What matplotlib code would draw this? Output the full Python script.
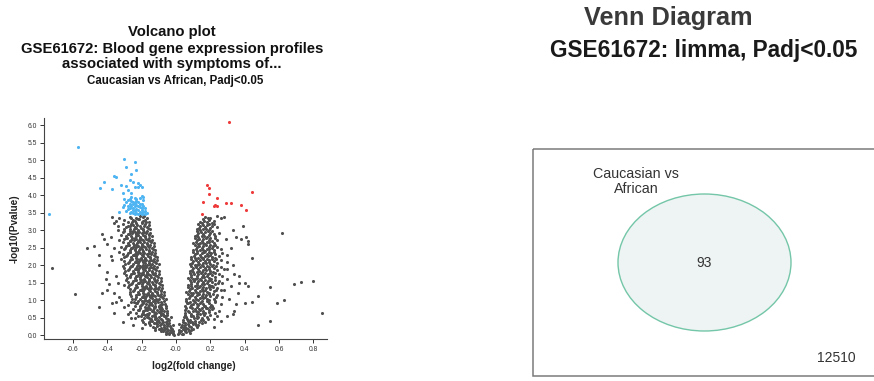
import matplotlib
matplotlib.use('Agg')
import matplotlib.pyplot as plt
from matplotlib.patches import Rectangle, Ellipse
import numpy as np

plt.rcParams['font.family'] = ['Liberation Sans', 'DejaVu Sans']

# significant genes, up in Caucasian (red) / down (blue)
up_genes = [(.31,6.1),(.18,4.28),(.19,4.2),(.19,4.02),(.44,4.08),(.24,3.93),(.16,3.8),(.32,3.78),
            (.29,3.77),(.23,3.72),(.24,3.70),(.22,3.68),(.38,3.72),(.41,3.58),(.15,3.47)]

down_genes = [(-.57,5.36),(-.74,3.46),(-.30,5.02),(-.24,4.94),(-.29,4.80),(-.23,4.72),(-.26,4.60),(-.36,4.55),
              (-.35,4.53),(-.42,4.37),(-.44,4.20),(-.37,4.17),(-.32,4.28),(-.29,4.27),(-.27,4.42),(-.25,4.38),
              (-.22,4.35),(-.21,4.30),(-.22,4.24),(-.20,4.23),(-.24,4.24),(-.28,4.15),(-.31,4.05),(-.26,4.05),
              (-.20,3.98),(-.19,3.95),(-.21,3.92),(-.30,3.88),(-.30,3.72),(-.33,3.52),(-.18,3.62),(-.28,3.85),
              (-.26,3.82),(-.25,3.80),(-.24,3.78),(-.27,3.76),(-.25,3.74),(-.23,3.73),(-.26,3.70),(-.24,3.68),
              (-.22,3.70),(-.21,3.65),(-.27,3.64),(-.25,3.62),(-.23,3.60),(-.22,3.58),(-.20,3.57),(-.28,3.60),
              (-.24,3.55),(-.21,3.53),(-.19,3.52),(-.26,3.52),(-.23,3.50),(-.21,3.48),(-.20,3.47),(-.18,3.46),
              (-.22,3.46),(-.25,3.48),(-.29,3.55),(-.27,3.90),(-.23,3.88),(-.24,3.92),(-.31,3.66),(-.29,3.80),
              (-.22,3.80),(-.20,3.75),(-.19,3.68),(-.26,3.95),(-.25,3.58),(-.24,3.45),(-.20,3.62),(-.18,3.56),
              (-.23,3.83),(-.28,3.70),(-.21,3.76),(-.17,3.50),(-.19,3.85),(-.27,3.50)]

# not significant, left arm of the volcano
gray_left = [(-.01,.02),(-.02,.05),(-.03,.08),(-.04,.04),(-.05,.12),(-.06,.09),(-.07,.15),(-.08,.18),(-.03,.14),(-.09,.11),(-.10,.19),(-.05,.19),(-.02,.11),(-.12,.16),(-.06,.03),
    (-.03,.22),(-.05,.27),(-.07,.24),(-.09,.31),(-.11,.26),(-.13,.34),(-.15,.29),(-.04,.36),(-.06,.39),(-.08,.35),(-.1,.38),(-.12,.22),(-.14,.4),(-.16,.36),(-.18,.31),(-.02,.3),(-.11,.33),(-.07,.3),(-.19,.38),(-.09,.22),
    (-.04,.44),(-.06,.49),(-.08,.43),(-.1,.52),(-.12,.46),(-.14,.55),(-.16,.48),(-.18,.57),(-.2,.45),(-.05,.58),(-.07,.56),(-.09,.6),(-.11,.41),(-.13,.59),(-.15,.42),(-.17,.53),(-.19,.6),(-.22,.54),(-.24,.49),(-.03,.52),(-.12,.51),(-.09,.47),
    (-.05,.63),(-.07,.68),(-.09,.64),(-.11,.72),(-.13,.66),(-.15,.75),(-.17,.62),(-.19,.7),(-.21,.77),(-.23,.65),(-.06,.78),(-.08,.74),(-.1,.8),(-.12,.61),(-.14,.69),(-.16,.79),(-.18,.73),(-.2,.61),(-.22,.71),(-.25,.76),(-.27,.66),(-.13,.77),(-.1,.67),(-.17,.71),
    (-.06,.83),(-.08,.88),(-.1,.84),(-.12,.93),(-.14,.86),(-.16,.95),(-.18,.82),(-.2,.9),(-.22,.97),(-.24,.85),(-.07,.98),(-.09,.94),(-.11,1.0),(-.13,.81),(-.15,.89),(-.17,.99),(-.19,.92),(-.21,.83),(-.23,.91),(-.26,.96),(-.28,.87),(-.12,.97),(-.16,.87),(-.2,.99),
    (-.06,1.03),(-.08,1.08),(-.1,1.04),(-.12,1.13),(-.14,1.06),(-.16,1.15),(-.18,1.02),(-.2,1.1),(-.22,1.17),(-.24,1.05),(-.26,1.12),(-.09,1.18),(-.11,1.2),(-.13,1.01),(-.15,1.09),(-.17,1.19),(-.19,1.13),(-.21,1.03),(-.23,1.14),(-.27,1.19),(-.14,1.17),(-.18,1.07),(-.07,1.14),
    (-.07,1.23),(-.09,1.28),(-.11,1.24),(-.13,1.33),(-.15,1.26),(-.17,1.35),(-.19,1.22),(-.21,1.3),(-.23,1.37),(-.25,1.25),(-.27,1.32),(-.1,1.38),(-.12,1.4),(-.14,1.21),(-.16,1.29),(-.18,1.39),(-.2,1.33),(-.22,1.23),(-.24,1.34),(-.28,1.39),(-.15,1.37),(-.19,1.27),(-.08,1.34),
    (-.08,1.43),(-.1,1.48),(-.12,1.44),(-.14,1.53),(-.16,1.46),(-.18,1.55),(-.2,1.42),(-.22,1.5),(-.24,1.57),(-.26,1.45),(-.28,1.52),(-.11,1.58),(-.13,1.6),(-.15,1.41),(-.17,1.49),(-.19,1.59),(-.21,1.53),(-.23,1.43),(-.25,1.54),(-.29,1.59),(-.16,1.57),(-.2,1.47),(-.09,1.55),(-.3,1.44),
    (-.09,1.63),(-.11,1.68),(-.13,1.64),(-.15,1.73),(-.17,1.66),(-.19,1.75),(-.21,1.62),(-.23,1.7),(-.25,1.77),(-.27,1.65),(-.29,1.72),(-.12,1.78),(-.14,1.8),(-.16,1.61),(-.18,1.69),(-.2,1.79),(-.22,1.73),(-.24,1.63),(-.26,1.74),(-.3,1.79),(-.17,1.77),(-.21,1.67),(-.1,1.75),
    (-.1,1.83),(-.12,1.88),(-.14,1.84),(-.16,1.93),(-.18,1.86),(-.2,1.95),(-.22,1.82),(-.24,1.9),(-.26,1.97),(-.28,1.85),(-.3,1.92),(-.13,1.98),(-.15,2.0),(-.17,1.81),(-.19,1.89),(-.21,1.99),(-.23,1.93),(-.25,1.83),(-.27,1.94),(-.31,1.99),(-.18,1.97),(-.22,1.87),(-.11,1.95),
    (-.1,2.03),(-.12,2.08),(-.14,2.04),(-.16,2.13),(-.18,2.06),(-.2,2.15),(-.22,2.02),(-.24,2.1),(-.26,2.17),(-.28,2.05),(-.3,2.12),(-.13,2.18),(-.15,2.2),(-.17,2.01),(-.19,2.09),(-.21,2.19),(-.23,2.13),(-.25,2.03),(-.27,2.14),(-.32,2.19),(-.18,2.17),(-.22,2.07),(-.11,2.15),
    (-.11,2.23),(-.13,2.28),(-.15,2.24),(-.17,2.33),(-.19,2.26),(-.21,2.35),(-.23,2.22),(-.25,2.3),(-.27,2.37),(-.29,2.25),(-.31,2.32),(-.14,2.38),(-.16,2.4),(-.18,2.21),(-.2,2.29),(-.22,2.39),(-.24,2.33),(-.26,2.23),(-.28,2.34),(-.33,2.39),(-.19,2.37),(-.23,2.27),(-.12,2.35),
    (-.12,2.43),(-.14,2.48),(-.16,2.44),(-.18,2.53),(-.2,2.46),(-.22,2.55),(-.24,2.42),(-.26,2.5),(-.28,2.57),(-.3,2.45),(-.32,2.52),(-.15,2.58),(-.17,2.6),(-.19,2.41),(-.21,2.49),(-.23,2.59),(-.25,2.53),(-.27,2.43),(-.29,2.54),(-.2,2.57),(-.24,2.47),(-.13,2.55),
    (-.13,2.63),(-.15,2.68),(-.17,2.64),(-.19,2.73),(-.21,2.66),(-.23,2.75),(-.25,2.62),(-.27,2.7),(-.29,2.77),(-.31,2.65),(-.33,2.72),(-.16,2.78),(-.18,2.8),(-.2,2.61),(-.22,2.69),(-.24,2.79),(-.26,2.73),(-.28,2.63),(-.3,2.74),(-.21,2.77),(-.14,2.73),
    (-.14,2.83),(-.16,2.88),(-.18,2.84),(-.2,2.93),(-.22,2.86),(-.24,2.95),(-.26,2.82),(-.28,2.9),(-.3,2.97),(-.32,2.85),(-.17,2.98),(-.19,3.0),(-.21,2.81),(-.23,2.89),(-.25,2.99),(-.27,2.93),(-.29,2.83),(-.31,2.94),(-.22,2.97),(-.15,2.93),
    (-.15,3.03),(-.17,3.08),(-.19,3.04),(-.21,3.13),(-.23,3.06),(-.25,3.15),(-.27,3.02),(-.29,3.1),(-.31,3.17),(-.18,3.18),(-.2,3.2),(-.22,3.01),(-.24,3.09),(-.26,3.19),(-.28,3.13),(-.3,3.03),(-.16,3.14),(-.34,3.12),(-.36,3.21),
    (-.16,3.23),(-.18,3.28),(-.2,3.24),(-.22,3.33),(-.24,3.26),(-.26,3.35),(-.28,3.22),(-.3,3.3),(-.19,3.38),(-.21,3.41),(-.23,3.21),(-.25,3.29),(-.27,3.39),(-.17,3.34),(-.33,3.36),(-.37,3.38),(-.35,3.26),
    # second pass through the dense core
    (-.015,.07),(-.035,.1),(-.055,.06),(-.075,.12),(-.045,.16),(-.085,.14),(-.025,.18),
    (-.035,.26),(-.055,.32),(-.075,.37),(-.095,.28),(-.115,.35),(-.135,.25),(-.065,.21),(-.105,.4),(-.155,.39),(-.045,.31),
    (-.045,.47),(-.065,.54),(-.085,.57),(-.105,.44),(-.125,.56),(-.145,.47),(-.165,.58),(-.185,.5),(-.055,.42),(-.205,.55),(-.115,.49),
    (-.055,.7),(-.075,.62),(-.095,.76),(-.115,.65),(-.135,.72),(-.155,.64),(-.175,.78),(-.195,.66),(-.215,.73),(-.085,.69),(-.125,.8),(-.165,.74),
    (-.065,.9),(-.085,.81),(-.105,.96),(-.125,.85),(-.145,.92),(-.165,.82),(-.185,.97),(-.205,.86),(-.225,.93),(-.095,.87),(-.135,.99),(-.175,.89),(-.245,.94),
    (-.075,1.06),(-.095,1.12),(-.115,1.05),(-.135,1.16),(-.155,1.02),(-.175,1.13),(-.195,1.08),(-.215,1.18),(-.235,1.09),(-.105,1.15),(-.145,1.11),(-.185,1.19),(-.255,1.03),
    (-.085,1.26),(-.105,1.32),(-.125,1.25),(-.145,1.36),(-.165,1.22),(-.185,1.33),(-.205,1.28),(-.225,1.38),(-.245,1.29),(-.115,1.35),(-.155,1.31),(-.195,1.39),(-.265,1.23),
    (-.095,1.46),(-.115,1.52),(-.135,1.45),(-.155,1.56),(-.175,1.42),(-.195,1.53),(-.215,1.48),(-.235,1.58),(-.255,1.49),(-.125,1.55),(-.165,1.51),(-.205,1.59),(-.275,1.43),
    (-.105,1.66),(-.125,1.72),(-.145,1.65),(-.165,1.76),(-.185,1.62),(-.205,1.73),(-.225,1.68),(-.245,1.78),(-.265,1.69),(-.135,1.75),(-.175,1.71),(-.215,1.79),(-.285,1.63),
    (-.115,1.86),(-.135,1.92),(-.155,1.85),(-.175,1.96),(-.195,1.82),(-.215,1.93),(-.235,1.88),(-.255,1.98),(-.275,1.89),(-.145,1.95),(-.185,1.91),(-.225,1.99),(-.295,1.83),
    (-.115,2.06),(-.135,2.12),(-.155,2.05),(-.175,2.16),(-.195,2.02),(-.215,2.13),(-.235,2.08),(-.255,2.18),(-.275,2.09),(-.145,2.15),(-.185,2.11),(-.225,2.19),(-.295,2.03),
    (-.125,2.26),(-.145,2.32),(-.165,2.25),(-.185,2.36),(-.205,2.22),(-.225,2.33),(-.245,2.28),(-.265,2.38),(-.285,2.29),(-.155,2.35),(-.195,2.31),(-.235,2.39),(-.305,2.23),
    (-.135,2.46),(-.155,2.52),(-.175,2.45),(-.195,2.56),(-.215,2.42),(-.235,2.53),(-.255,2.48),(-.275,2.58),(-.295,2.49),(-.165,2.55),(-.205,2.51),(-.245,2.59),
    (-.145,2.66),(-.165,2.72),(-.185,2.65),(-.205,2.76),(-.225,2.62),(-.245,2.73),(-.265,2.68),(-.285,2.78),(-.175,2.75),(-.215,2.71),(-.255,2.79),
    (-.155,2.86),(-.175,2.92),(-.195,2.85),(-.215,2.96),(-.235,2.82),(-.255,2.93),(-.275,2.88),(-.185,2.95),(-.225,2.91),(-.265,2.99),
    (-.165,3.06),(-.185,3.12),(-.205,3.05),(-.225,3.16),(-.245,3.02),(-.265,3.13),(-.195,3.26),(-.215,3.31),(-.235,3.36),(-.185,3.4),(-.175,3.22),(-.255,3.24),
    # scattered outer points
    (-.72,1.93),(-.59,1.17),(-.52,2.5),(-.48,2.55),(-.45,2.3),(-.45,2.0),(-.45,.8),(-.43,2.88),(-.42,2.75),(-.41,1.6),(-.43,1.21),(-.4,1.3),(-.4,1.8),(-.39,1.45),(-.38,2.8),(-.38,2.25),(-.37,2.15),
    (-.36,.65),(-.37,.93),(-.35,.94),(-.36,1.2),(-.34,1.5),(-.31,.37),(-.28,.6),(-.32,1.0),(-.4,2.6),(-.36,2.5),(-.35,1.7),(-.34,3.0),(-.33,1.1),(-.3,.8),(-.26,.5),(-.25,.3),(-.2,.2)]

# not significant, right arm
gray_right = [(.01,.03),(.02,.07),(.03,.12),(.04,.05),(.05,.15),(.06,.1),(.07,.18),(.02,.16),(.09,.14),(.1,.19),(.04,.19),(.08,.06),
    (.03,.24),(.05,.28),(.07,.33),(.09,.25),(.11,.36),(.13,.3),(.04,.38),(.06,.22),(.08,.39),(.15,.34),(.12,.23),(.1,.31),(.17,.38),(.02,.33),
    (.04,.45),(.06,.51),(.08,.43),(.1,.56),(.12,.48),(.14,.6),(.16,.44),(.18,.53),(.05,.59),(.07,.41),(.09,.54),(.11,.42),(.13,.52),(.2,.58),(.22,.47),(.15,.5),(.24,.55),
    (.05,.64),(.07,.7),(.09,.62),(.11,.75),(.13,.67),(.15,.79),(.17,.63),(.19,.72),(.06,.77),(.08,.8),(.1,.68),(.12,.61),(.14,.73),(.16,.69),(.21,.76),(.23,.64),(.18,.78),(.25,.7),
    (.05,.84),(.07,.91),(.09,.82),(.11,.96),(.13,.86),(.15,.99),(.17,.83),(.19,.92),(.06,.97),(.08,.94),(.1,.88),(.12,.81),(.14,.93),(.16,.89),(.18,.97),(.21,.85),(.23,.95),(.26,.88),(.2,.81),
    (.06,1.04),(.08,1.11),(.1,1.02),(.12,1.16),(.14,1.06),(.16,1.19),(.18,1.03),(.2,1.12),(.07,1.17),(.09,1.2),(.11,1.08),(.13,1.01),(.15,1.13),(.17,1.09),(.19,1.17),(.22,1.05),(.24,1.15),(.27,1.08),
    (.06,1.24),(.08,1.31),(.1,1.22),(.12,1.36),(.14,1.26),(.16,1.39),(.18,1.23),(.2,1.32),(.07,1.37),(.09,1.4),(.11,1.28),(.13,1.21),(.15,1.33),(.17,1.29),(.19,1.37),(.22,1.25),(.24,1.35),(.26,1.28),(.21,1.4),
    (.07,1.44),(.09,1.51),(.11,1.42),(.13,1.56),(.15,1.46),(.17,1.59),(.19,1.43),(.21,1.52),(.08,1.57),(.1,1.6),(.12,1.48),(.14,1.41),(.16,1.53),(.18,1.49),(.2,1.57),(.23,1.45),(.25,1.55),(.27,1.48),
    (.07,1.64),(.09,1.71),(.11,1.62),(.13,1.76),(.15,1.66),(.17,1.79),(.19,1.63),(.21,1.72),(.08,1.77),(.1,1.8),(.12,1.68),(.14,1.61),(.16,1.73),(.18,1.69),(.2,1.77),(.23,1.65),(.25,1.75),(.27,1.68),
    (.08,1.84),(.1,1.91),(.12,1.82),(.14,1.96),(.16,1.86),(.18,1.99),(.2,1.83),(.22,1.92),(.09,1.97),(.11,2.0),(.13,1.88),(.15,1.81),(.17,1.93),(.19,1.89),(.21,1.97),(.24,1.85),(.26,1.95),(.28,1.88),
    (.08,2.04),(.1,2.11),(.12,2.02),(.14,2.16),(.16,2.06),(.18,2.19),(.2,2.03),(.22,2.12),(.09,2.17),(.11,2.2),(.13,2.08),(.15,2.01),(.17,2.13),(.19,2.09),(.21,2.17),(.24,2.05),(.26,2.15),
    (.09,2.24),(.11,2.31),(.13,2.22),(.15,2.36),(.17,2.26),(.19,2.39),(.21,2.23),(.23,2.32),(.1,2.37),(.12,2.4),(.14,2.28),(.16,2.21),(.18,2.33),(.2,2.29),(.22,2.37),(.25,2.25),(.27,2.35),
    (.1,2.44),(.12,2.51),(.14,2.42),(.16,2.56),(.18,2.46),(.2,2.59),(.22,2.43),(.24,2.52),(.11,2.57),(.13,2.6),(.15,2.48),(.17,2.41),(.19,2.53),(.21,2.49),(.23,2.57),(.26,2.45),
    (.1,2.64),(.12,2.71),(.14,2.62),(.16,2.76),(.18,2.66),(.2,2.79),(.22,2.63),(.24,2.72),(.11,2.77),(.13,2.8),(.15,2.68),(.17,2.61),(.19,2.73),(.21,2.69),(.23,2.77),
    (.11,2.84),(.13,2.91),(.15,2.82),(.17,2.96),(.19,2.86),(.21,2.99),(.23,2.83),(.12,2.97),(.14,3.0),(.16,2.88),(.18,2.81),(.2,2.93),(.22,2.89),(.25,2.92),
    (.12,3.04),(.14,3.11),(.16,3.02),(.18,3.16),(.2,3.06),(.22,3.19),(.13,3.17),(.15,3.2),(.17,3.08),(.19,3.01),(.21,3.13),(.24,3.1),
    (.14,3.24),(.16,3.31),(.18,3.22),(.2,3.36),(.22,3.26),(.24,3.4),(.17,3.38),(.19,3.28),(.21,3.21),(.26,3.34),(.28,3.38),
    # second pass through the dense core
    (.015,.09),(.035,.05),(.055,.11),(.075,.13),(.045,.17),
    (.035,.29),(.055,.35),(.075,.26),(.095,.37),(.115,.29),(.135,.38),(.045,.23),
    (.045,.51),(.065,.46),(.085,.58),(.105,.49),(.125,.55),(.145,.45),(.165,.57),(.185,.47),
    (.055,.71),(.075,.66),(.095,.78),(.115,.69),(.135,.75),(.155,.65),(.175,.77),(.195,.67),(.215,.79),
    (.065,.91),(.085,.86),(.105,.98),(.125,.89),(.145,.95),(.165,.85),(.185,.97),(.205,.87),(.225,.99),
    (.075,1.06),(.095,1.14),(.115,1.03),(.135,1.18),(.155,1.07),(.175,1.15),(.195,1.02),(.215,1.19),(.235,1.1),
    (.075,1.27),(.095,1.34),(.115,1.23),(.135,1.38),(.155,1.27),(.175,1.35),(.195,1.22),(.215,1.39),(.235,1.3),
    (.085,1.47),(.105,1.54),(.125,1.43),(.145,1.58),(.165,1.47),(.185,1.55),(.205,1.42),(.225,1.59),(.245,1.5),
    (.085,1.67),(.105,1.74),(.125,1.63),(.145,1.78),(.165,1.67),(.185,1.75),(.205,1.62),(.225,1.79),
    (.095,1.87),(.115,1.94),(.135,1.83),(.155,1.98),(.175,1.87),(.195,1.95),(.215,1.82),(.235,1.99),
    (.095,2.07),(.115,2.14),(.135,2.03),(.155,2.18),(.175,2.07),(.195,2.15),(.215,2.02),(.235,2.19),
    (.105,2.27),(.125,2.34),(.145,2.23),(.165,2.38),(.185,2.27),(.205,2.35),(.225,2.22),
    (.115,2.47),(.135,2.54),(.155,2.43),(.175,2.58),(.195,2.47),(.215,2.55),
    (.115,2.67),(.135,2.74),(.155,2.63),(.175,2.78),(.195,2.67),(.125,2.87),(.145,2.94),(.165,2.83),(.185,2.98),
    (.135,3.07),(.155,3.14),(.175,3.03),(.195,3.18),(.165,3.27),(.185,3.34),
    # scattered outer points
    (.3,.55),(.33,.6),(.34,.7),(.31,1.05),(.35,.9),(.40,.93),(.36,1.2),(.40,1.5),(.42,1.4),(.3,1.6),(.33,2.0),(.37,1.7),(.32,2.5),(.3,2.3),(.42,2.6),(.44,2.22),
    (.29,2.75),(.35,2.8),(.38,2.75),(.41,2.8),(.42,2.7),(.33,3.0),(.39,3.12),(.62,2.92),(.48,1.13),(.55,1.37),(.59,.93),(.63,1.0),(.69,1.45),(.73,1.52),(.80,1.56),
    (.85,.64),(.48,.28),(.55,.4),(.44,.95),(.3,1.9),(.28,1.3),(.32,1.4),(.26,.4),(.22,.25),(.3,2.1),(.34,1.75),(.37,1.5)]

x_ticks = [-0.6, -0.4, -0.2, 0.0, 0.2, 0.4, 0.6, 0.8]
x_tick_labels = ['-0.6', '-0.4', '-0.2', '-0.0', '0.2', '0.4', '0.6', '0.8']
y_ticks = [0.0, 0.5, 1.0, 1.5, 2.0, 2.5, 3.0, 3.5, 4.0, 4.5, 5.0, 5.5, 6.0]

venn_set_name = 'Caucasian vs\nAfrican'
venn_count = 93
venn_outside = 12510

fig = plt.figure(figsize=(8.74, 3.81), dpi=100)

# ---- volcano plot ----
ax = fig.add_axes([0.0507, 0.1102, 0.3231, 0.580])
gray = np.array(gray_left + gray_right)
up = np.array(up_genes)
down = np.array(down_genes)
ax.scatter(gray[:, 0], gray[:, 1], s=5, color='#505050', linewidths=0)
ax.scatter(down[:, 0], down[:, 1], s=5, color='#4fb4f2', linewidths=0)
ax.scatter(up[:, 0], up[:, 1], s=5, color='#ee3a3a', linewidths=0)
ax.set_xlim(-0.767, 0.878)
ax.set_ylim(-0.106, 6.2)
ax.set_xticks(x_ticks)
ax.set_xticklabels(x_tick_labels)
ax.set_yticks(y_ticks)
ax.set_yticklabels(['%.1f' % v for v in y_ticks])
for s in ['top', 'right']:
    ax.spines[s].set_visible(False)
for s in ['left', 'bottom']:
    ax.spines[s].set_color('#444444')
    ax.spines[s].set_linewidth(0.8)
ax.tick_params(labelsize=4.9, colors='#333333', length=3, width=0.7, pad=2)
ax.set_xlabel('log2(fold change)', fontsize=7.2, fontweight='bold', color='#222222')
ax.xaxis.set_label_coords(0.528, -0.1)
ax.set_ylabel('-log10(Pvalue)', fontsize=7.2, fontweight='bold', color='#222222')
ax.yaxis.set_label_coords(-0.088, 0.5)

fig.text(172 / 874, 1 - 32 / 381, 'Volcano plot', ha='center', va='center',
         fontsize=10.7, fontweight='bold', color='#111111')
fig.text(172 / 874, 1 - 49 / 381, 'GSE61672: Blood gene expression profiles', ha='center', va='center',
         fontsize=10.7, fontweight='bold', color='#111111')
fig.text(172 / 874, 1 - 64 / 381, 'associated with symptoms of...', ha='center', va='center',
         fontsize=10.7, fontweight='bold', color='#111111')
fig.text(175 / 874, 1 - 81 / 381, 'Caucasian vs African, Padj<0.05', ha='center', va='center',
         fontsize=8.3, fontweight='bold', color='#111111')

# ---- venn diagram (pixel coordinates) ----
vx = fig.add_axes([0, 0, 1, 1])
vx.set_xlim(0, 874)
vx.set_ylim(381, 0)
vx.axis('off')
vx.patch.set_visible(False)
vx.add_patch(Rectangle((532.5, 149), 360, 227, facecolor='none', edgecolor='#7a7a7a', linewidth=1.1))
vx.add_patch(Ellipse((704.5, 262.5), 173, 137, facecolor='#eef4f3', edgecolor='#74c6a8', linewidth=1.0))
vx.text(636, 181.5, venn_set_name, ha='center', va='center', fontsize=10.3,
        color='#333333', linespacing=1.15)
vx.text(704.5, 263, str(venn_count), ha='center', va='center', fontsize=10, color='#333333')
vx.text(836.5, 358, str(venn_outside), ha='center', va='center', fontsize=10, color='#333333')

fig.text(668 / 874, 1 - 18 / 381, 'Venn Diagram', ha='center', va='center',
         fontsize=18.2, fontweight='bold', color='#3a3a3a')
fig.text(703.5 / 874, 1 - 50 / 381, 'GSE61672: limma, Padj<0.05', ha='center', va='center',
         fontsize=16.3, fontweight='bold', color='#1a1a1a')

plt.savefig('out.png', dpi=100)
